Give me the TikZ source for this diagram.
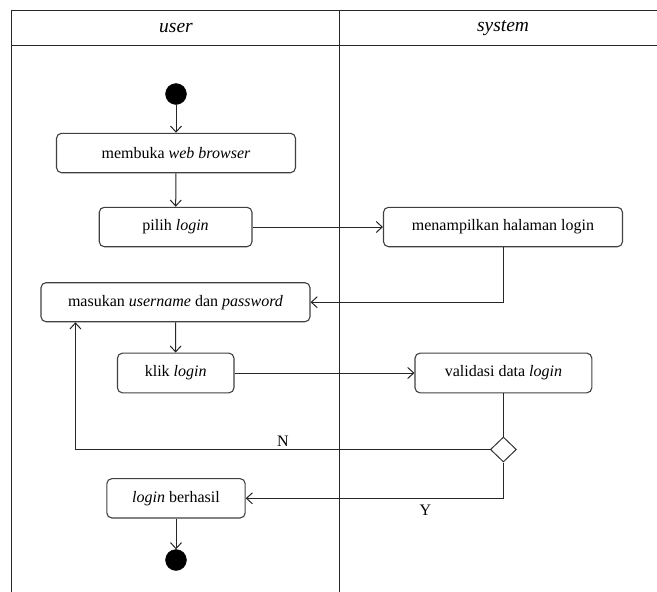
\documentclass[tikz,border=0pt]{standalone}
\usepackage{fontspec}
\setmainfont{Liberation Serif}
\usetikzlibrary{arrows.meta,shapes.geometric}
\tikzset{
  lane/.style={draw=black!85, line width=1pt},
  act/.style={draw=black!75, line width=1.1pt, rounded corners=5pt, align=center,
    inner sep=0pt, font=\fontsize{16}{19}\selectfont},
  dot/.style={circle, fill=black, draw=black, inner sep=0pt, minimum size=21pt},
  dec/.style={diamond, draw=black!80, line width=1pt, inner sep=0pt, minimum width=26pt, minimum height=25pt, aspect=1},
  flow/.style={draw=black!85, line width=1pt, -{Straight Barb[length=6pt,width=11pt,line width=1pt]}},
  plain/.style={draw=black!85, line width=1pt},
  lbl/.style={font=\fontsize{16}{19}\selectfont, inner sep=0pt},
  hdr/.style={font=\fontsize{19.5}{22}\selectfont\itshape, inner sep=0pt}
}
\begin{document}
\begin{tikzpicture}[x=1pt,y=-1pt]
\useasboundingbox (0,0) rectangle (657,592);
% swimlane frame
\draw[lane] (657,10) -- (11.7,10) -- (11.7,600);
\draw[lane] (11.7,45.5) -- (657,45.5);
\draw[lane] (339.5,10) -- (339.5,600);
\node[hdr] (huser) at (176,28.5) {user};
\node[hdr] (hsys) at (503,28.5) {system};
% nodes
\node[dot] (start) at (176,94) {};
\node[act, minimum width=239pt, minimum height=39.4pt] (browser) at (176,153) {membuka \textit{web browser}};
\node[act, minimum width=152.7pt, minimum height=39.4pt] (pilih) at (175.6,227) {pilih \textit{login}};
\node[act, minimum width=239pt, minimum height=39.4pt] (tampil) at (503,227) {menampilkan halaman login};
\node[act, minimum width=269pt, minimum height=39pt] (masuk) at (175.5,302.2) {masukan \textit{username} dan \textit{password}};
\node[act, minimum width=116.5pt, minimum height=39.7pt] (klik) at (175.7,373) {klik \textit{login}};
\node[act, minimum width=176.8pt, minimum height=39.7pt] (valid) at (503.4,373) {validasi data \textit{login}};
\node[dec] (dec) at (503.4,449.5) {};
\node[act, minimum width=138.3pt, minimum height=39.3pt] (ok) at (176,498.3) {\textit{login} berhasil};
\node[dot] (end) at (176,560) {};
\coordinate (nloop) at (75.4,449.5);
% connectors
\draw[flow] (start) -- (browser);
\draw[flow] (browser) -- (pilih);
\draw[flow] (pilih) -- (tampil);
\draw[flow] (tampil.south) |- (masuk.east);
\draw[flow] (masuk) -- (klik);
\draw[flow] (klik) -- (valid);
\draw[plain] (valid) -- (dec);
\draw[flow] (dec.west) -- (nloop) -- (nloop |- masuk.south);
\draw[flow] (dec.south) |- (ok.east);
\draw[flow] (ok) -- (end);
\node[lbl] (nlab) at (283,441) {N};
\node[lbl] (ylab) at (425.4,510.3) {Y};
\end{tikzpicture}
\end{document}
